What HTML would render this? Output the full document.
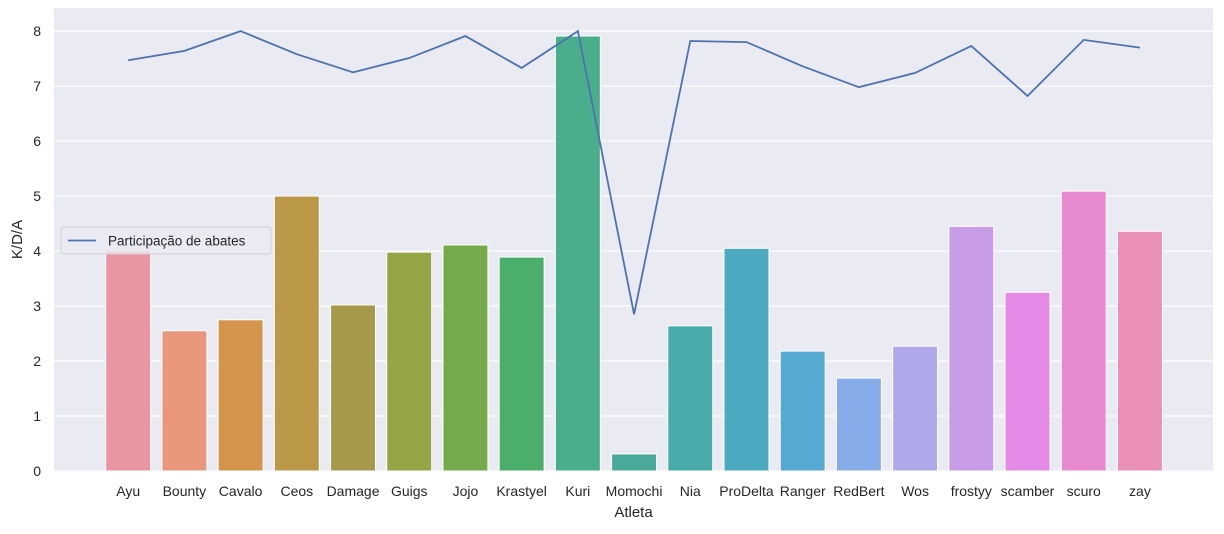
<!DOCTYPE html>
<html><head><meta charset="utf-8"><style>
body{margin:0;background:#fff;}
svg text{font-family:"Liberation Sans","DejaVu Sans",sans-serif;fill:#262626;}
</style></head><body>
<svg id="chart" width="1224" height="529" xmlns="http://www.w3.org/2000/svg"></svg>
<script>
const categories=["Ayu","Bounty","Cavalo","Ceos","Damage","Guigs","Jojo","Krastyel","Kuri","Momochi","Nia","ProDelta","Ranger","RedBert","Wos","frostyy","scamber","scuro","zay"];
const kdaValues=[4.02,2.55,2.75,5.0,3.02,3.98,4.11,3.89,7.91,0.31,2.64,4.05,2.18,1.69,2.27,4.45,3.25,5.09,4.36];
const killParticipation=[7.47,7.64,8.0,7.58,7.25,7.51,7.91,7.33,8.0,2.85,7.82,7.8,7.36,6.98,7.24,7.73,6.82,7.84,7.7];
const yTicks=[0,1,2,3,4,5,6,7,8];
const colors=["#EA96A2","#E8967C","#D4944C","#BB9847","#A59A49","#94A545","#73AB4A","#4BAE6A","#4AAD8C","#4AAA9A","#49AAAA","#4CAAC0","#56A9D3","#85ACE8","#AFA9EC","#C99CE8","#E48AE6","#E88AD0","#E98FB8"];
const NS="http://www.w3.org/2000/svg";
const svg=document.getElementById('chart');
const L=54,R=1213,T=8,B=471;
const xMin=-1.32,xMax=19.3,yMin=0,yMax=8.42;
const x=v=>L+(v-xMin)/(xMax-xMin)*(R-L);
const y=v=>B-(v-yMin)/(yMax-yMin)*(B-T);
function mk(tag,attrs,parent){const e=document.createElementNS(NS,tag);for(const k in attrs)e.setAttribute(k,attrs[k]);(parent||svg).appendChild(e);return e;}
const bg=mk('rect',{x:L,y:T,width:R-L,height:B-T,fill:'#EAEAF2'});


yTicks.forEach(t=>{
  const g=mk('line',{x1:L,x2:R,y1:y(t),y2:y(t),stroke:'#fff','stroke-width':1.2});
  
  
  const tx=mk('text',{x:L-13,y:y(t)+5,'text-anchor':'end','font-size':14});
  tx.textContent=t;
  
  
});
const bw=(x(1)-x(0))*0.8;
categories.forEach((c,i)=>{
  const r=mk('rect',{x:x(i)-bw/2,y:y(kdaValues[i]),width:bw,height:y(0)-y(kdaValues[i]),fill:colors[i],stroke:'#fff','stroke-width':1});
  
  
  const tx=mk('text',{x:x(i),y:B+25,'text-anchor':'middle','font-size':14});
  tx.textContent=c;
  
  
});
const pts=killParticipation.map((v,i)=>x(i)+','+y(v)).join(' ');
const pl=mk('polyline',{points:pts,fill:'none',stroke:'#4C72B0','stroke-width':1.8});


const lg=mk('g',{});


mk('rect',{x:61,y:227,width:210,height:27,rx:3,fill:'#EAEAF2',stroke:'#d0d0d8','fill-opacity':0.85},lg);
mk('line',{x1:68,x2:96,y1:240.5,y2:240.5,stroke:'#4C72B0','stroke-width':1.8},lg);
const lt=mk('text',{x:108,y:245.5,'font-size':13.5},lg);
lt.textContent='Participação de abates';


const xl=mk('text',{x:(L+R)/2,y:517,'text-anchor':'middle','font-size':15});
xl.textContent='Atleta';


const yl=mk('text',{x:22,y:(T+B)/2,'text-anchor':'middle','font-size':15,transform:'rotate(-90 22 '+((T+B)/2)+')'});
yl.textContent='K/D/A';


</script>
</body></html>
